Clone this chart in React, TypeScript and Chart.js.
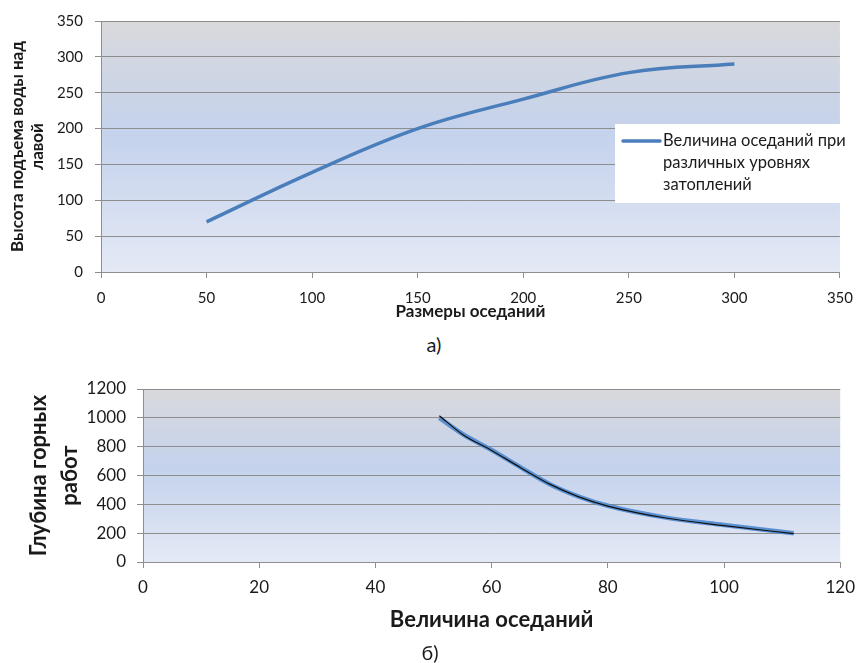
import React, { useEffect, useRef } from "react";
import { Chart, registerables } from "chart.js";

Chart.register(...registerables);

// ---- Chart (а) data ----
const topX = [50, 100, 150, 200, 250, 300];
const topY = [70, 139, 200, 241, 278, 290];
const topLegend = ["Величина оседаний при", "различных уровнях", "затоплений"];
const topXTitle = "Размеры оседаний";
const topYTitle = ["Высота подъема воды над", "лавой"];

// ---- Chart (б) data ----
const botX = [51, 55, 60, 65, 70, 75, 80, 90, 100, 112];
const botY = [1000, 888, 777, 656, 540, 454, 390, 308, 257, 200];
const botTrendY = [1015, 885, 774, 654, 540, 452, 388, 305, 252, 197];
const botXTitle = "Величина оседаний";
const botYTitle = ["Глубина горных", "работ"];

const FONT = "Lato, 'Noto Sans', sans-serif";
const GRID = "#8e8e8e";
const TEXT = "#1a1a1a";

const bgPlugin = {
  id: "bgGradient",
  beforeDraw(chart: any) {
    const { ctx, chartArea } = chart;
    if (!chartArea) return;
    const { left, top, right, bottom } = chartArea;
    const g = ctx.createLinearGradient(0, top, 0, bottom);
    g.addColorStop(0, "rgb(217,217,220)");
    g.addColorStop(0.45, "rgb(196,210,236)");
    g.addColorStop(1, "rgb(228,233,245)");
    ctx.save();
    ctx.fillStyle = g;
    ctx.fillRect(left, top, right - left, bottom - top);
    ctx.restore();
  },
};

const legendPlugin = {
  id: "boxLegend",
  afterDraw(chart: any) {
    const opts = chart.options.plugins.boxLegend;
    if (!opts || !opts.lines) return;
    const { ctx } = chart;
    ctx.save();
    ctx.fillStyle = "#ffffff";
    ctx.fillRect(615, 124, 233, 79);
    ctx.strokeStyle = "#4a7ebb";
    ctx.lineWidth = 3.5;
    ctx.lineCap = "round";
    ctx.beginPath();
    ctx.moveTo(623, 141);
    ctx.lineTo(660, 141);
    ctx.stroke();
    ctx.fillStyle = TEXT;
    ctx.font = `16.5px ${FONT}`;
    ctx.textBaseline = "middle";
    opts.lines.forEach((t: string, i: number) => {
      ctx.fillText(t, 663, 141 + i * 22);
    });
    ctx.restore();
  },
};

function pts(xs: number[], ys: number[]) {
  return xs.map((x, i) => ({ x, y: ys[i] }));
}

const plain = (v: any) => String(v);

function ChartCanvas({ config, left, top, width, height }: any) {
  const ref = useRef<HTMLCanvasElement | null>(null);
  useEffect(() => {
    if (!ref.current) return;
    const chart = new Chart(ref.current, config);
    return () => chart.destroy();
  }, []);
  return (
    <div style={{ position: "absolute", left, top, width, height }}>
      <canvas ref={ref} width={width} height={height} style={{ display: "block", width, height }} />
    </div>
  );
}

const topConfig: any = {
  type: "line",
  data: {
    datasets: [
      {
        label: topLegend.join(" "),
        data: pts(topX, topY),
        borderColor: "#4a7ebb",
        borderWidth: 3.5,
        pointRadius: 0,
        tension: 0.4,
        fill: false,
      },
    ],
  },
  options: {
    animation: false,
    responsive: false,
    maintainAspectRatio: false,
    devicePixelRatio: 1,
    layout: { padding: { left: 0, right: 14, top: 18, bottom: 8 } },
    plugins: {
      legend: { display: false },
      tooltip: { enabled: false },
      boxLegend: { lines: topLegend },
    },
    scales: {
      x: {
        type: "linear",
        min: 0,
        max: 350,
        ticks: { stepSize: 50, color: TEXT, font: { family: FONT, size: 15 }, padding: 11, maxRotation: 0, callback: plain },
        grid: { drawOnChartArea: false, tickLength: 6, tickColor: GRID, color: GRID },
        border: { color: GRID },
        title: {
          display: true,
          text: topXTitle,
          color: TEXT,
          font: { family: FONT, size: 17, weight: "bold", lineHeight: "18px" },
          padding: { top: 0, bottom: 1 },
        },
        afterFit(scale: any) {
          scale.height = 50;
        },
      },
      y: {
        min: 0,
        max: 350,
        ticks: { stepSize: 50, color: TEXT, font: { family: FONT, size: 15 }, padding: 12, callback: plain },
        grid: { color: GRID, tickLength: 6, tickColor: GRID },
        border: { color: GRID },
        title: {
          display: true,
          text: topYTitle,
          color: TEXT,
          font: { family: FONT, size: 17, weight: "bold", lineHeight: "20px" },
          padding: { top: 8, bottom: 0 },
        },
        afterFit(scale: any) {
          scale.width = 101;
        },
      },
    },
  },
  plugins: [bgPlugin, legendPlugin],
};

const botConfig: any = {
  type: "line",
  data: {
    datasets: [
      {
        label: "Тренд",
        data: pts(botX, botTrendY),
        borderColor: "#111111",
        borderWidth: 1.2,
        pointRadius: 0,
        cubicInterpolationMode: "monotone",
        fill: false,
      },
      {
        label: "Глубина",
        data: pts(botX, botY),
        borderColor: "rgba(78,136,206,0.9)",
        borderWidth: 4.5,
        pointRadius: 0,
        cubicInterpolationMode: "monotone",
        fill: false,
      },
    ],
  },
  options: {
    animation: false,
    responsive: false,
    maintainAspectRatio: false,
    devicePixelRatio: 1,
    layout: { padding: { left: 0, right: 22, top: 29, bottom: 31 } },
    plugins: {
      legend: { display: false },
      tooltip: { enabled: false },
    },
    scales: {
      x: {
        type: "linear",
        min: 0,
        max: 120,
        ticks: { stepSize: 20, color: TEXT, font: { family: FONT, size: 17 }, padding: 9, maxRotation: 0, callback: plain },
        grid: { drawOnChartArea: false, tickLength: 6, tickColor: GRID, color: GRID },
        border: { color: GRID },
        title: {
          display: true,
          text: botXTitle,
          color: TEXT,
          font: { family: FONT, size: 22, weight: "bold", lineHeight: "24px" },
          padding: { top: 0, bottom: 0 },
        },
        afterFit(scale: any) {
          scale.height = 70;
        },
      },
      y: {
        min: 0,
        max: 1200,
        ticks: { stepSize: 200, color: TEXT, font: { family: FONT, size: 17 }, padding: 11, callback: plain },
        grid: { color: GRID, tickLength: 6, tickColor: GRID },
        border: { color: GRID },
        title: {
          display: true,
          text: botYTitle,
          color: TEXT,
          font: { family: FONT, size: 22, weight: "bold", lineHeight: "31px" },
          padding: { top: 23, bottom: 0 },
        },
        afterFit(scale: any) {
          scale.width = 143;
        },
      },
    },
  },
  plugins: [bgPlugin],
};

export default function App() {
  return (
    <div
      style={{
        position: "absolute",
        left: 0,
        top: 0,
        width: 864,
        height: 663,
        background: "#ffffff",
        fontFamily: FONT,
        color: TEXT,
        overflow: "hidden",
      }}
    >
      <ChartCanvas config={topConfig} left={0} top={0} width={864} height={330} />
      <div
        style={{
          position: "absolute",
          left: 434,
          top: 333,
          transform: "translateX(-50%)",
          fontSize: 20,
          lineHeight: "22px",
        }}
      >
        а)
      </div>
      <ChartCanvas config={botConfig} left={0} top={360} width={864} height={303} />
      <div
        style={{
          position: "absolute",
          left: 430,
          top: 641,
          transform: "translateX(-50%)",
          fontSize: 20,
          lineHeight: "22px",
        }}
      >
        б)
      </div>
    </div>
  );
}
